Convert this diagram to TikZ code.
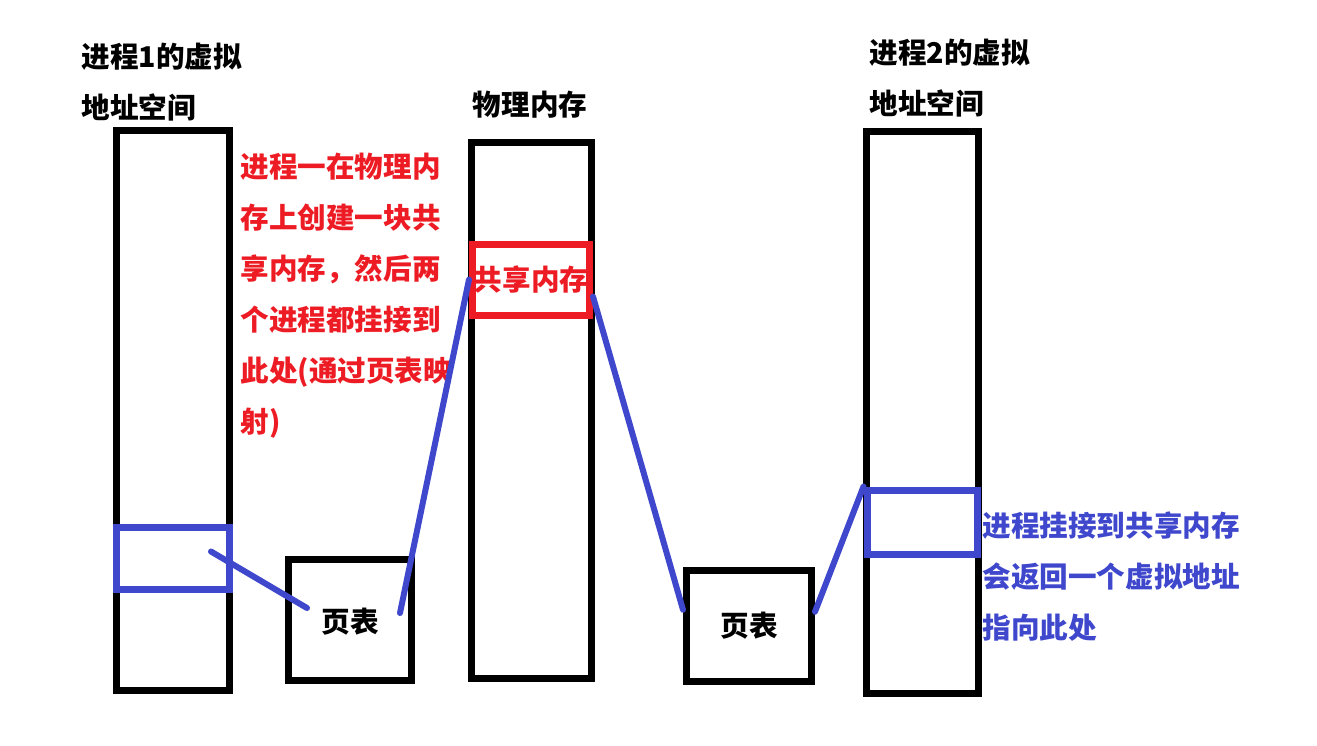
\documentclass[tikz,border=0pt]{standalone}
\usepackage{fontspec}
\setmainfont{Noto Sans CJK SC}
\usepackage{xcolor}
\usepackage{tikz}
\usetikzlibrary{calc}
\definecolor{ink}{HTML}{000000}
\definecolor{mapblue}{HTML}{3F48CC}
\definecolor{shmred}{HTML}{ED1C24}
\tikzset{
  box/.style={draw=ink,line width=3.5pt,inner sep=0pt,fill=none,
              font=\bfseries\fontsize{14.3pt}{17pt}\selectfont},
  mapbox/.style={draw=mapblue,line width=3.5pt,inner sep=0pt},
  shmbox/.style={draw=shmred,line width=3.5pt,inner sep=0pt,text=shmred,
                 font=\bfseries\fontsize{14.3pt}{17pt}\selectfont},
  link/.style={draw=mapblue,line width=3pt,line cap=round},
  title/.style={anchor=west,align=left,inner sep=0pt,
                font=\bfseries\fontsize{14.3pt}{25.5pt}\selectfont},
  note/.style={title,text=#1}
}

\begin{document}
\begin{tikzpicture}[x=0.5pt,y=-0.5pt]
  \useasboundingbox (0,0) rectangle (1317,745);
  % Address spaces and memory
  \node[box,minimum width=56.5pt,minimum height=280pt] (vm1) at (173,410) {};
  \node[box,minimum width=60pt,minimum height=268pt] (pm) at (531,410) {};
  \node[box,minimum width=56pt,minimum height=281pt] (vm2) at (922,412) {};
  \node[box,minimum width=61.5pt,minimum height=60.5pt,text depth=-6pt] (pt1) at (350,620) {页表};
  \node[box,minimum width=62.5pt,minimum height=55.75pt] (pt2) at (749,625.75) {页表};

  % Mapped regions
  \node[mapbox,minimum width=56.5pt,minimum height=31pt] (map1) at (173,558.5) {};
  \node[mapbox,minimum width=55pt,minimum height=32pt] (map2) at (922,522) {};
  \node[shmbox,minimum width=58.5pt,minimum height=35.5pt] (shm) at (531,279.5) {共享内存};

  % Titles
  \node[title] (t1) at (81,82.5) {进程1的虚拟\\地址空间};
  \node[title,anchor=center] (t2) at (530,105) {物理内存};
  \node[title] (t3) at (869,78) {进程2的虚拟\\地址空间};
  \node[note=shmred] (n1) at (240,295.5) {进程一在物理内\\存上创建一块共\\享内存，然后两\\个进程都挂接到\\此处(通过页表映\\射)};
  \node[note=mapblue] (n2) at (982,576.5) {进程挂接到共享内存\\会返回一个虚拟地址\\指向此处};

  % Page table links
  \draw[link] ([shift={(38,-7)}]map1.center) -- ([shift={(-43,-12)}]pt1.center);
  \draw[link] ([shift={(50,-7)}]pt1.center) -- (shm.west);
  \draw[link] ([shift={(0,17)}]shm.east) -- ([shift={(0,-16)}]pt2.west);
  \draw[link] ([shift={(0,-14)}]pt2.east) -- (map2.north west);
\end{tikzpicture}
\end{document}
